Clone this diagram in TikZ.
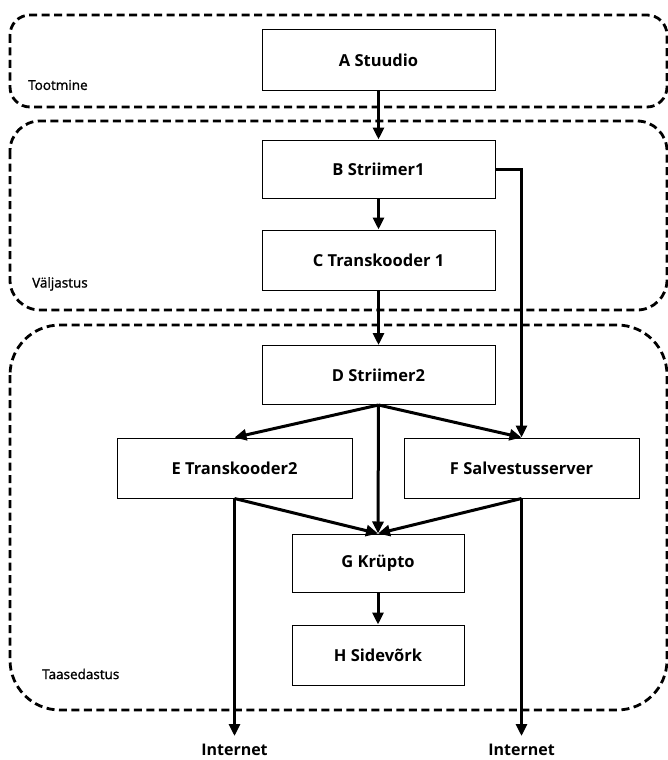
\documentclass[tikz,border=0pt]{standalone}
\usepackage{fontspec}
\setmainfont{Open Sans}
\newfontfamily\lblfont[FakeBold=1.4]{Open Sans}
\usetikzlibrary{arrows.meta}
\begin{document}
\begin{tikzpicture}[x=1pt,y=-1pt,
  group/.style={draw, line width=2.8pt, dash pattern=on 8pt off 4.5pt},
  grouplabel/.style={anchor=west, inner sep=0pt, font=\lblfont\fontsize{13.5}{15}\selectfont},
  box/.style={draw, line width=1pt, fill=white, inner sep=0pt,
    font=\bfseries\fontsize{16.5}{19}\selectfont,
    minimum width=233pt, minimum height=60pt},
  flow/.style={line width=3pt, -{Triangle[length=12pt,width=11pt]}},
  outlabel/.style={inner sep=0pt, font=\bfseries\fontsize{16}{18}\selectfont}]
\useasboundingbox (0,0) rectangle (668,760);

% stage frames
\draw[group, rounded corners=20pt] (10,15) rectangle (667,107);
\draw[group, rounded corners=30pt] (10,121) rectangle (667,310);
\draw[group, rounded corners=50pt] (10,325) rectangle (667,710);
\node[grouplabel] (lblA) at (28,85) {Tootmine};
\node[grouplabel] (lblB) at (32,284) {Väljastus};
\node[grouplabel] (lblC) at (42,674) {Taasedastus};

% processing nodes
\node[box] (A) at (378.5,60) {A Stuudio};
\node[box, minimum height=58pt] (B) at (378.5,169) {B Striimer1};
\node[box] (C) at (378.5,260) {C Transkooder 1};
\node[box, minimum height=59pt] (D) at (378.5,375) {D Striimer2};
\node[box, minimum width=235pt] (E) at (234.5,468) {E Transkooder2};
\node[box, minimum width=235pt] (F) at (521.5,468) {F Salvestusserver};
\node[box, minimum width=172pt, minimum height=58pt] (G) at (378,563) {G Krüpto};
\node[box, minimum width=172pt] (H) at (378,655) {H Sidevõrk};
\node[outlabel] (I1) at (234.5,750) {Internet};
\node[outlabel] (I2) at (521.5,750) {Internet};

% connections
\draw[flow] (A) -- (B);
\draw[flow] (B) -- (C);
\draw[flow] (C) -- (D);
\draw[flow] (B.east) -| (F.north);
\draw[flow] (D.south) -- (E.north);
\draw[flow] (D.south) -- (F.north);
\draw[flow] (D.south) -- (G.north);
\draw[flow] (E.south) -- (G.north);
\draw[flow] (F.south) -- (G.north);
\draw[flow] (G) -- (H);
\draw[flow, shorten >=8pt] (E.south) -- (I1.north);
\draw[flow, shorten >=8pt] (F.south) -- (I2.north);
\end{tikzpicture}
\end{document}
